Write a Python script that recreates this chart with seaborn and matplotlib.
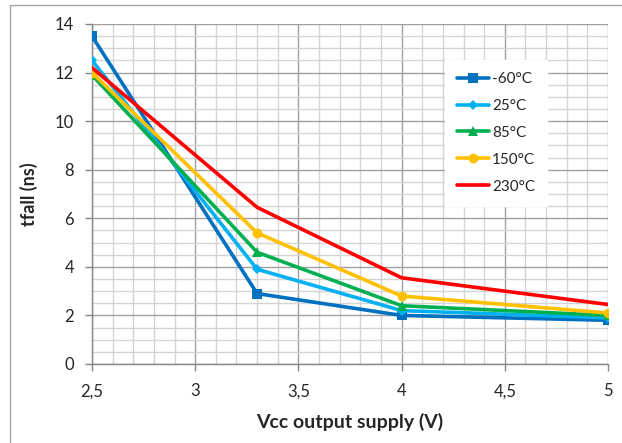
import matplotlib
matplotlib.use("Agg")
import matplotlib.pyplot as plt
from matplotlib.ticker import MultipleLocator, FixedLocator, FixedFormatter
from matplotlib.patches import Rectangle
import seaborn as sns
import pandas as pd

vcc = [2.5, 3.3, 4.0, 5.0]
series_names = ["-60°C", "25°C", "85°C", "150°C", "230°C"]
t_m60 = [13.5, 2.9, 2.0, 1.8]
t_25 = [12.5, 3.9, 2.2, 1.9]
t_85 = [11.9, 4.6, 2.4, 2.0]
t_150 = [12.0, 5.4, 2.8, 2.1]
t_230 = [12.2, 6.45, 3.55, 2.45]
values = [t_m60, t_25, t_85, t_150, t_230]
x_ticks = [2.5, 3, 3.5, 4, 4.5, 5]
x_ticklabels = ["2,5", "3", "3,5", "4", "4,5", "5"]
y_ticks = [0, 2, 4, 6, 8, 10, 12, 14]

colors = ["#0070C0", "#00B0F0", "#00B050", "#FFC000", "#FF0000"]
markers = ["s", "D", "^", "o", None]
msizes = [7, 5, 7, 7, 0]

sns.set_theme(style="white")
plt.rcParams["font.family"] = ["Lato", "DejaVu Sans"]

rows = []
for name, vals in zip(series_names, values):
    for x, y in zip(vcc, vals):
        rows.append({"Vcc": x, "tfall": y, "series": name})
df = pd.DataFrame(rows)

fig = plt.figure(figsize=(6.22, 4.43), dpi=100)
fig.patches.append(Rectangle((10 / 622, -0.1), 1.2, 1 - 5 / 443 + 0.1,
                             transform=fig.transFigure, fill=False,
                             edgecolor="#A6A6A6", linewidth=1.0))
ax = fig.add_axes([92 / 622, 1 - 364 / 443, (608 - 92) / 622, (364 - 24) / 443])

for name, col, mk, ms in zip(series_names, colors, markers, msizes):
    sub = df[df["series"] == name]
    sns.lineplot(data=sub, x="Vcc", y="tfall", ax=ax, color=col, linewidth=2.6,
                 marker=mk if mk else None, markersize=ms, markeredgewidth=0,
                 label=name, zorder=3)

ax.set_xlim(2.5, 5)
ax.set_ylim(0, 14)
ax.xaxis.set_major_locator(FixedLocator(x_ticks))
ax.xaxis.set_major_formatter(FixedFormatter(x_ticklabels))
ax.xaxis.set_minor_locator(MultipleLocator(0.1))
ax.yaxis.set_major_locator(FixedLocator(y_ticks))
ax.yaxis.set_minor_locator(MultipleLocator(0.5))
ax.grid(True, which="major", color="#A0A0A0", linewidth=1.0, zorder=0)
ax.grid(True, which="minor", color="#D4D4D4", linewidth=1.0, zorder=0)
ax.set_axisbelow(True)
for s in ["top", "right"]:
    ax.spines[s].set_visible(False)
for s in ["left", "bottom"]:
    ax.spines[s].set_color("#868686")
    ax.spines[s].set_linewidth(1.0)
ax.tick_params(axis="both", which="major", direction="out", length=5, width=1,
               color="#868686", labelsize=12, left=True, bottom=True)
ax.tick_params(axis="x", which="major", pad=9)
ax.tick_params(axis="y", which="major", pad=8)
ax.tick_params(axis="both", which="minor", length=0)
ax.set_xlabel("Vcc output supply (V)", fontsize=14, fontweight="bold", labelpad=10)
ax.set_ylabel("tfall (ns)", fontsize=13, fontweight="bold", labelpad=12)

leg = ax.legend(loc="upper left", bbox_to_anchor=((437 - 92) / 516, 1 - (52 - 24) / 340),
                frameon=True, fontsize=11, handlelength=2.1, labelspacing=0.85,
                borderpad=0.8, handletextpad=0.2, fancybox=False)
leg.get_frame().set_facecolor("white")
leg.get_frame().set_edgecolor("white")
leg.get_frame().set_alpha(1)

fig.savefig("out.png", dpi=100)
